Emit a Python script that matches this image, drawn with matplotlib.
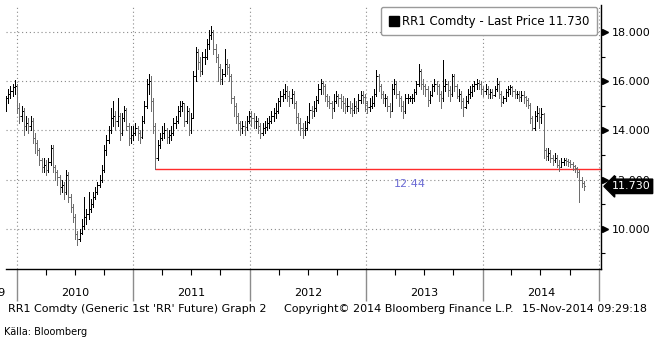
import numpy as np
import pandas as pd
import matplotlib
matplotlib.use("Agg")
import matplotlib.pyplot as plt
import matplotlib.dates as mdates
from matplotlib.lines import Line2D
from matplotlib.ticker import FixedLocator, FormatStrFormatter
from matplotlib.transforms import blended_transform_factory

# RR1 Comdty weekly bars (Nov 2009 - Nov 2014)
close = [
    15.3, 15.5, 15.6, 15.75, 15.8, 14.9, 14.6, 14.8, 14.2, 14.3,
    14.2, 14.4, 13.7, 13.5, 13.2, 12.8, 12.5, 12.6, 12.4, 12.7,
    13.3, 12.5, 12.3, 12.1, 11.7, 11.8, 11.5, 12.2, 11.3, 10.9,
    10.5, 9.8, 9.6, 9.85, 10.1, 10.5, 10.6, 10.8, 11.0, 11.3,
    11.5, 11.8, 12.0, 12.4, 13.2, 13.6, 14.0, 14.5, 14.6, 14.4,
    14.6, 13.9, 14.5, 14.85, 14.2, 13.7, 13.8, 13.9, 14.1, 13.9,
    13.75, 14.4, 15.0, 15.9, 16.0, 15.2, 14.2, 12.9, 13.4, 13.7,
    13.9, 14.0, 13.75, 13.8, 13.9, 14.3, 14.4, 14.8, 15.0, 15.1,
    14.4, 14.8, 14.0, 14.5, 16.2, 17.2, 16.8, 16.4, 17.0, 17.0,
    17.5, 17.9, 18.0, 17.3, 17.0, 16.6, 16.1, 16.3, 16.7, 16.6,
    16.2, 15.3, 15.0, 14.6, 14.3, 14.1, 14.2, 14.15, 14.4, 14.6,
    14.5, 14.4, 14.4, 14.2, 13.9, 14.1, 14.15, 14.3, 14.4, 14.6,
    14.7, 14.8, 15.2, 15.4, 15.5, 15.6, 15.4, 15.3, 15.5, 15.1,
    14.55, 14.3, 14.1, 14.0, 14.1, 14.35, 14.85, 14.8, 14.9, 15.25,
    15.7, 15.95, 15.8, 15.4, 15.2, 15.1, 14.9, 15.2, 15.4, 15.3,
    15.2, 15.1, 15.0, 15.0, 14.9, 14.85, 15.0, 14.9, 15.25, 15.45,
    15.35, 15.1, 14.95, 15.0, 15.1, 15.5, 16.2, 15.8, 15.5, 15.3,
    15.3, 15.0, 14.8, 15.7, 15.9, 15.5, 15.3, 15.0, 14.8, 15.3,
    15.3, 15.3, 15.3, 15.55, 15.9, 16.4, 15.9, 15.8, 15.7, 15.25,
    15.45, 15.8, 15.9, 15.8, 15.5, 15.3, 15.8, 15.9, 15.65, 15.5,
    16.2, 15.8, 15.4, 15.5, 15.2, 14.95, 15.2, 15.5, 15.55, 15.8,
    15.9, 15.95, 15.9, 15.7, 15.6, 15.7, 15.5, 15.55, 15.45, 15.7,
    15.9, 15.5, 15.15, 15.3, 15.55, 15.7, 15.77, 15.6, 15.5, 15.5,
    15.35, 15.45, 15.35, 15.25, 15.05, 14.5, 14.1, 14.6, 14.7, 14.55,
    14.65, 13.2, 12.95, 13.1, 12.9, 12.8, 12.9, 12.6, 12.52, 12.7,
    12.8, 12.75, 12.7, 12.65, 12.55, 12.48, 12.3, 12.0, 11.85, 11.73,
]
high = [
    15.4, 15.7, 15.8, 15.9, 16.05, 15.9, 15.1, 15.0, 14.9, 14.6,
    14.5, 14.6, 14.5, 13.9, 13.6, 13.3, 12.9, 12.9, 12.8, 12.9,
    13.4, 13.4, 12.6, 12.4, 12.2, 12.0, 11.9, 12.4, 12.3, 11.4,
    11.0, 10.6, 9.9, 10.0, 10.4, 11.3, 10.8, 11.5, 11.2, 11.5,
    11.7, 11.9, 12.2, 12.6, 13.4, 13.8, 14.2, 14.9, 15.2, 14.8,
    15.3, 14.7, 14.7, 15.0, 14.9, 14.3, 14.2, 14.2, 14.3, 14.2,
    14.0, 14.6, 15.2, 16.1, 16.3, 16.2, 15.3, 14.3, 13.6, 13.9,
    14.2, 14.3, 14.1, 14.0, 14.2, 14.5, 14.6, 15.0, 15.2, 15.2,
    15.1, 15.0, 14.9, 14.7, 16.4, 17.4, 17.3, 17.0, 17.2, 17.3,
    17.7, 18.1, 18.25, 18.1, 17.5, 17.1, 16.7, 16.5, 17.3, 16.9,
    16.7, 16.3, 15.4, 15.1, 14.7, 14.4, 14.4, 14.4, 14.6, 14.8,
    14.8, 14.7, 14.6, 14.5, 14.3, 14.3, 14.4, 14.5, 14.6, 14.8,
    14.9, 15.1, 15.3, 15.6, 15.7, 15.9, 15.8, 15.6, 15.7, 15.6,
    15.2, 14.7, 14.5, 14.3, 14.4, 14.6, 15.1, 15.0, 15.2, 15.4,
    15.9, 16.1, 16.0, 15.9, 15.5, 15.4, 15.2, 15.5, 15.6, 15.5,
    15.5, 15.4, 15.3, 15.3, 15.2, 15.1, 15.3, 15.2, 15.5, 15.6,
    15.6, 15.5, 15.2, 15.3, 15.4, 15.7, 16.45, 16.3, 15.9, 15.6,
    15.5, 15.4, 15.1, 15.9, 16.1, 16.0, 15.6, 15.4, 15.2, 15.5,
    15.5, 15.4, 15.5, 15.7, 16.0, 16.7, 16.5, 16.1, 15.9, 15.8,
    15.6, 15.9, 16.1, 16.0, 15.9, 15.6, 16.85, 16.1, 16.0, 15.8,
    16.3, 16.3, 15.9, 15.7, 15.6, 15.3, 15.4, 15.7, 15.8, 15.9,
    16.0, 16.1, 16.05, 16.0, 15.8, 15.9, 15.8, 15.7, 15.7, 15.8,
    16.15, 16.0, 15.6, 15.4, 15.7, 15.8, 15.85, 15.8, 15.7, 15.6,
    15.6, 15.6, 15.6, 15.4, 15.3, 15.1, 14.6, 14.8, 15.0, 14.9,
    14.9, 14.7, 13.3, 13.3, 13.2, 13.0, 13.1, 13.0, 12.8, 12.9,
    12.9, 12.9, 12.85, 12.8, 12.7, 12.6, 12.5, 12.4, 12.1, 11.95,
]
low = [
    14.8, 15.1, 15.3, 15.4, 15.5, 14.7, 14.3, 14.4, 13.8, 14.0,
    13.9, 14.0, 13.5, 13.1, 13.0, 12.6, 12.3, 12.3, 12.2, 12.3,
    12.6, 12.3, 12.0, 11.8, 11.4, 11.5, 11.2, 11.4, 11.1, 10.7,
    10.3, 9.6, 9.35, 9.5, 9.8, 10.0, 10.2, 10.4, 10.7, 10.9,
    11.2, 11.4, 11.7, 11.9, 12.3, 13.0, 13.5, 13.9, 14.2, 14.0,
    14.2, 13.6, 13.8, 14.4, 14.0, 13.4, 13.5, 13.6, 13.8, 13.6,
    13.5, 13.7, 14.3, 14.9, 15.5, 14.8, 13.9, 12.44, 12.8, 13.3,
    13.6, 13.7, 13.5, 13.5, 13.6, 13.8, 14.1, 14.3, 14.6, 14.8,
    14.2, 14.3, 13.8, 13.9, 14.5, 16.0, 16.5, 16.2, 16.3, 16.7,
    16.9, 17.3, 17.7, 17.1, 16.8, 16.0, 15.9, 15.9, 16.2, 16.3,
    16.0, 15.1, 14.6, 14.3, 14.0, 13.8, 13.9, 13.8, 14.0, 14.3,
    14.2, 14.1, 14.1, 13.9, 13.7, 13.8, 13.9, 14.0, 14.1, 14.3,
    14.4, 14.5, 14.7, 15.0, 15.2, 15.3, 15.2, 15.0, 15.1, 14.9,
    14.3, 14.0, 13.8, 13.7, 13.8, 14.0, 14.3, 14.5, 14.6, 14.8,
    15.1, 15.5, 15.5, 15.2, 15.0, 14.9, 14.5, 14.8, 15.1, 15.0,
    14.9, 14.8, 14.7, 14.8, 14.7, 14.6, 14.7, 14.7, 14.8, 15.1,
    15.1, 14.8, 14.7, 14.8, 14.9, 15.0, 15.4, 15.6, 15.3, 15.1,
    15.0, 14.8, 14.55, 14.8, 15.5, 15.3, 15.0, 14.8, 14.5, 14.7,
    15.1, 15.2, 15.1, 15.2, 15.5, 15.8, 15.7, 15.5, 15.4, 15.0,
    15.1, 15.4, 15.6, 15.5, 15.2, 14.9, 15.2, 15.6, 15.4, 15.2,
    15.4, 15.6, 15.3, 15.2, 14.9, 14.6, 14.9, 15.1, 15.3, 15.4,
    15.6, 15.7, 15.7, 15.5, 15.4, 15.5, 15.3, 15.3, 15.3, 15.4,
    15.6, 15.3, 15.0, 15.1, 15.2, 15.4, 15.5, 15.4, 15.3, 15.3,
    15.2, 15.2, 15.1, 15.0, 14.9, 14.3, 14.0, 14.0, 14.4, 14.1,
    14.3, 12.9, 12.8, 12.8, 12.7, 12.6, 12.7, 12.5, 12.35, 12.5,
    12.6, 12.6, 12.55, 12.5, 12.4, 12.3, 12.1, 11.1, 11.7, 11.6,
]
first_open = 15.1
support = 12.44
years = [2010, 2011, 2012, 2013, 2014]
y_major = [10, 12, 14, 16, 18]
y_minor = [9, 11, 13, 15, 17]

dates = pd.date_range(end="2014-11-14", periods=len(close), freq="W-FRI")
x = mdates.date2num(dates)
opens = [first_open] + close[:-1]
cols = ["black" if c >= o else "#6e6e6e" for o, c in zip(opens, close)]

fig = plt.figure(figsize=(6.55, 3.4), dpi=100)
ax = fig.add_axes([6 / 655, 71 / 340, 595 / 655, 264 / 340])

x0 = mdates.date2num(pd.Timestamp("2009-11-27"))
x1 = mdates.date2num(pd.Timestamp("2015-01-07"))
ax.set_xlim(x0, x1)
ax.set_ylim(8.37, 19.1)

# OHLC bars, 1px crisp lines
bar_lw = 0.72
ax.vlines(x, low, high, colors=cols, lw=bar_lw, zorder=3, antialiased=False)
ax.hlines(opens, x - 3, x, colors=cols, lw=bar_lw, zorder=3, antialiased=False)
ax.hlines(close, x, x + 3, colors=cols, lw=bar_lw, zorder=3, antialiased=False)

# support line from the 2011 low
i_low = low.index(support)
ax.hlines(support, x[i_low], x1, colors="#ff2b2b", lw=1.0, zorder=2)
ax.text(mdates.date2num(pd.Timestamp("2013-05-18")), 11.82, f"{support:.2f}",
        color="#6b6bd4", fontsize=8, ha="center", va="center")

# axes styling
for s in ["left", "top"]:
    ax.spines[s].set_visible(False)
for s in ["right", "bottom"]:
    ax.spines[s].set_linewidth(1.0)

ax.yaxis.tick_right()
ax.yaxis.set_major_locator(FixedLocator(y_major))
ax.yaxis.set_minor_locator(FixedLocator(y_minor))
ax.yaxis.set_major_formatter(FormatStrFormatter("%.3f"))
ax.tick_params(axis="y", which="major", length=0, pad=7.5, labelsize=8)
ax.tick_params(axis="y", which="minor", length=3, width=0.8)

ax.xaxis.set_major_locator(mdates.YearLocator())
ax.xaxis.set_minor_locator(mdates.MonthLocator(bymonth=[4, 7, 10]))
ax.xaxis.set_major_formatter(plt.NullFormatter())
ax.tick_params(axis="x", which="major", length=23, width=1.0, color="#8c8c8c")
ax.tick_params(axis="x", which="minor", length=4.5, width=0.8)

ax.grid(True, which="major", color="#8a8a8a", lw=0.8, ls=(0, (1, 2.5)))

# arrow markers on the price axis
ytrans = blended_transform_factory(ax.transAxes, ax.transData)
ax.plot([1.006] * len(y_major), y_major, transform=ytrans, marker=">", ms=4,
        ls="none", color="black", clip_on=False)

# year labels centred in each year
xtrans = blended_transform_factory(ax.transData, ax.transAxes)
for yr in years:
    ax.text(mdates.date2num(pd.Timestamp(f"{yr}-07-02")), -0.091, str(yr),
            transform=xtrans, ha="center", va="center", fontsize=8)
fig.text(5 / 655, 1 - 293 / 340, "2009", ha="right", va="center", fontsize=8)

# last price tag
ax.text(1.018, close[-1], f"{close[-1]:.3f}", transform=ytrans, color="white",
        fontsize=8, ha="left", va="center", zorder=5, clip_on=False,
        bbox=dict(boxstyle="larrow,pad=0.2", fc="black", ec="black"))

# legend box
handle = Line2D([], [], marker="s", color="black", ls="none", ms=7)
leg = ax.legend([handle], [f"RR1 Comdty - Last Price {close[-1]:.3f}"],
                loc="upper right", bbox_to_anchor=(0.994, 0.992), fontsize=8.5,
                fancybox=True, framealpha=1, edgecolor="#9a9a9a",
                handlelength=0.9, handletextpad=0.3, borderpad=0.65,
                borderaxespad=0)
leg.get_frame().set_linewidth(1.0)

# footer
fy = 1 - 309 / 340
fig.text(8 / 655, fy, "RR1 Comdty (Generic 1st 'RR' Future) Graph 2",
         fontsize=8, va="center")
fig.text(284 / 655, fy, "Copyright\u00a9 2014 Bloomberg Finance L.P.",
         fontsize=8, va="center")
fig.text(647 / 655, fy, "15-Nov-2014 09:29:18", fontsize=8, va="center", ha="right")
fig.text(4 / 655, 1 - 332 / 340, "Källa: Bloomberg", fontsize=7, va="center",
         family=["Liberation Sans Narrow", "DejaVu Sans"])

fig.savefig("out.png", dpi=100)
